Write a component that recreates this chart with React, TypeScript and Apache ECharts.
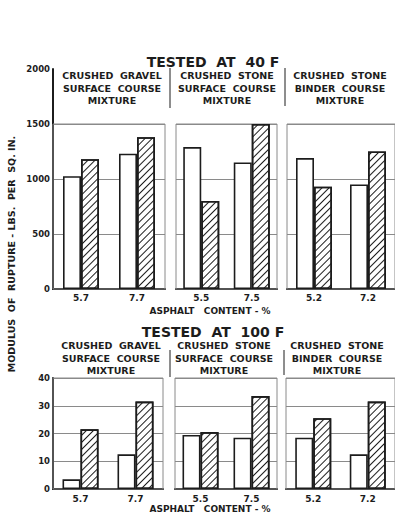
import React, { useEffect, useRef } from "react";
import * as echarts from "echarts";

// Asphalt content (%) tested for each mixture
const mixtures = [
  "CRUSHED  GRAVEL\nSURFACE  COURSE\nMIXTURE",
  "CRUSHED  STONE\nSURFACE  COURSE\nMIXTURE",
  "CRUSHED  STONE\nBINDER  COURSE\nMIXTURE",
];
const asphaltContent = [
  ["5.7", "7.7"],
  ["5.5", "7.5"],
  ["5.2", "7.2"],
];

// Modulus of rupture, lbs. per sq. in., tested at 40 F
const rupture40Plain = [
  [1025, 1230],
  [1290, 1150],
  [1190, 950],
];
const rupture40Hatched = [
  [1180, 1380],
  [800, 1500],
  [930, 1250],
];

// Modulus of rupture, lbs. per sq. in., tested at 100 F
const rupture100Plain = [
  [3.5, 12.5],
  [19.5, 18.5],
  [18.5, 12.5],
];
const rupture100Hatched = [
  [21.5, 31.5],
  [20.5, 33.5],
  [25.5, 31.5],
];

const INK = "#1c1c1c";
const GRID_GREY = "#8a8a8a";
const FONT = "DejaVu Sans";

// panel frames: [left, width]
const topPanels = [
  [53, 112],
  [176, 101],
  [287, 112],
];
const bottomPanels = [
  [53, 110],
  [175, 102],
  [286, 112],
];
const headerX40 = [112, 227, 340];
const headerX100 = [111, 224, 337];

const hatch = {
  symbol: "rect",
  symbolSize: 1,
  color: INK,
  dashArrayX: [1, 0],
  dashArrayY: [1, 3.6],
  rotation: -Math.PI / 4,
};

function buildOption() {
  const grids: any[] = [];
  const xAxes: any[] = [];
  const yAxes: any[] = [];
  const series: any[] = [];

  const addPanel = (
    idx: number,
    frame: number[],
    top: number,
    height: number,
    cats: string[],
    plain: number[],
    hatched: number[],
    max: number,
    interval: number,
    boxTop: number,
    labelMargin: number,
  ) => {
    grids.push({ left: frame[0], top, width: frame[1], height });
    xAxes.push({
      type: "category",
      gridIndex: idx,
      data: cats,
      axisLine: { show: true, lineStyle: { color: INK, width: 2 } },
      axisTick: { show: false },
      axisLabel: {
        color: INK,
        fontFamily: FONT,
        fontWeight: "bold",
        fontSize: 9,
        margin: labelMargin,
      },
    });
    const first = idx % 3 === 0;
    yAxes.push({
      type: "value",
      gridIndex: idx,
      min: 0,
      max,
      interval,
      axisLine: { show: first, lineStyle: { color: INK, width: 2 } },
      axisTick: { show: false },
      axisLabel: {
        show: first,
        color: INK,
        fontFamily: FONT,
        fontWeight: "bold",
        fontSize: 8.5,
        margin: 3,
        padding: [0, 0, 5, 0],
        formatter: (v: number) => String(v),
      },
      splitLine: {
        show: true,
        showMaxLine: boxTop === max,
        lineStyle: { color: GRID_GREY, width: 1 },
      },
    });
    series.push({
      type: "bar",
      xAxisIndex: idx,
      yAxisIndex: idx,
      data: plain,
      barWidth: 18,
      barGap: "0%",
      itemStyle: { color: "#fff", borderColor: INK, borderWidth: 1.6 },
      markArea: {
        silent: true,
        itemStyle: {
          color: "rgba(0,0,0,0)",
          borderColor: GRID_GREY,
          borderWidth: 1,
        },
        data: [[{ yAxis: 0 }, { yAxis: boxTop }]],
      },
    });
    series.push({
      type: "bar",
      xAxisIndex: idx,
      yAxisIndex: idx,
      data: hatched,
      barWidth: 18,
      barGap: "0%",
      itemStyle: {
        color: "#fff",
        borderColor: INK,
        borderWidth: 1.6,
        decal: hatch,
      },
    });
  };

  for (let i = 0; i < 3; i++) {
    addPanel(i, topPanels[i], 69, 220, asphaltContent[i], rupture40Plain[i], rupture40Hatched[i], 2000, 500, 1500, 4);
  }
  for (let i = 0; i < 3; i++) {
    addPanel(i + 3, bottomPanels[i], 378, 111, asphaltContent[i], rupture100Plain[i], rupture100Hatched[i], 40, 10, 40, 5);
  }

  const text = (x: number, y: number, t: string, size: number, extra: any = {}) => ({
    type: "text",
    x,
    y,
    style: {
      text: t,
      fill: INK,
      font: `bold ${size}px "${FONT}"`,
      align: "center",
      verticalAlign: "middle",
      ...extra,
    },
  });
  const rule = (x: number, y1: number, y2: number) => ({
    type: "line",
    shape: { x1: x, y1, x2: x, y2 },
    style: { stroke: INK, lineWidth: 1 },
  });

  const graphics: any[] = [
    text(213, 62, "TESTED  AT  40 F", 14),
    text(213, 332, "TESTED  AT  100 F", 14),
    text(210, 311, "ASPHALT   CONTENT - %", 9),
    text(210, 509, "ASPHALT   CONTENT - %", 9),
    rule(170, 68, 108),
    rule(285, 68, 106),
    rule(170, 350, 377),
    rule(284, 350, 375),
    {
      type: "text",
      x: 11,
      y: 254,
      rotation: Math.PI / 2,
      style: {
        text: "MODULUS  OF  RUPTURE - LBS.  PER  SQ. IN.",
        fill: INK,
        font: `bold 9.5px "${FONT}"`,
        align: "center",
        verticalAlign: "middle",
      },
    },
  ];
  mixtures.forEach((m, i) => {
    graphics.push(text(headerX40[i], 88, m, 9.5, { lineHeight: 12.5 }));
    graphics.push(text(headerX100[i], 358, m, 9.5, { lineHeight: 12.5 }));
  });

  return {
    animation: false,
    backgroundColor: "#fff",
    grid: grids,
    xAxis: xAxes,
    yAxis: yAxes,
    series,
    graphic: graphics,
  };
}

export default function App() {
  const ref = useRef<HTMLDivElement>(null);
  useEffect(() => {
    if (!ref.current) return;
    const chart = echarts.init(ref.current, undefined, { renderer: "svg" });
    chart.setOption(buildOption() as any);
    return () => chart.dispose();
  }, []);
  return (
    <div
      ref={ref}
      style={{ position: "fixed", left: 0, top: 0, width: 395, height: 519 }}
    />
  );
}
